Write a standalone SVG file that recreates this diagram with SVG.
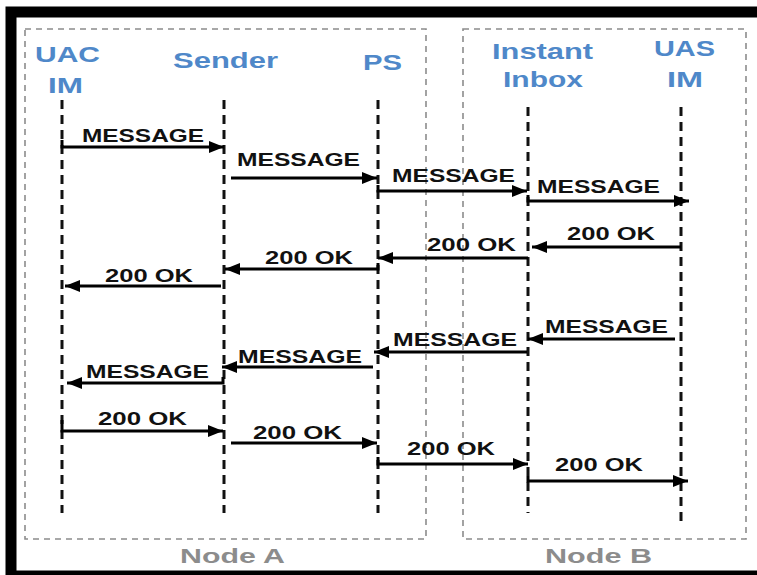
<svg xmlns="http://www.w3.org/2000/svg" width="757" height="575" viewBox="0 0 757 575">
<style>
.frame{fill:none;stroke:#000;stroke-width:11}
.box{fill:none;stroke:#8c8c8c;stroke-width:1.6;stroke-dasharray:6 5}
.life{stroke:#111;stroke-width:3;stroke-dasharray:9 6;fill:none}
.hdr{font-family:"Liberation Sans",Arial,sans-serif;font-weight:bold;font-size:22px;fill:#4f88c9}
.nodelbl{font-family:"Liberation Sans",Arial,sans-serif;font-weight:bold;font-size:21px;fill:#8c8c8c}
.msg{fill:none;stroke:#000;stroke-width:3;marker-end:url(#ah)}
.lbl{font-family:"Liberation Sans",Arial,sans-serif;font-weight:bold;font-size:18px;fill:#111}
</style>
<defs>
<marker id="ah" markerUnits="userSpaceOnUse" markerWidth="16" markerHeight="12" refX="15" refY="6" orient="auto">
<path d="M0,0 L15,6 L0,12 z" fill="#000"/>
</marker>
</defs>
<rect width="757" height="575" fill="#fff"/>
<rect class="frame" x="11" y="12" width="760" height="564"/>
<g id="nodeA">
<rect class="box" x="25" y="29" width="401" height="510"/>
<text class="nodelbl" x="180" y="563" textLength="105" lengthAdjust="spacingAndGlyphs">Node A</text>
</g>
<g id="nodeB">
<rect class="box" x="463" y="29" width="283" height="510"/>
<text class="nodelbl" x="545" y="563" textLength="107" lengthAdjust="spacingAndGlyphs">Node B</text>
</g>
<g id="uac">
<text class="hdr" x="35" y="62" textLength="65" lengthAdjust="spacingAndGlyphs">UAC</text>
<text class="hdr" x="48" y="93" textLength="35" lengthAdjust="spacingAndGlyphs">IM</text>
<line class="life" x1="62" y1="100" x2="62" y2="513"/>
</g>
<g id="sender">
<text class="hdr" x="173" y="68" textLength="105" lengthAdjust="spacingAndGlyphs">Sender</text>
<line class="life" x1="224" y1="100" x2="224" y2="513"/>
</g>
<g id="ps">
<text class="hdr" x="363" y="70" textLength="39" lengthAdjust="spacingAndGlyphs">PS</text>
<line class="life" x1="378" y1="100" x2="378" y2="513"/>
</g>
<g id="inbox">
<text class="hdr" x="492" y="59" textLength="101" lengthAdjust="spacingAndGlyphs">Instant</text>
<text class="hdr" x="503" y="87" textLength="80" lengthAdjust="spacingAndGlyphs">Inbox</text>
<line class="life" x1="528" y1="107" x2="528" y2="513"/>
</g>
<g id="uas">
<text class="hdr" x="654" y="56" textLength="61" lengthAdjust="spacingAndGlyphs">UAS</text>
<text class="hdr" x="667" y="87" textLength="36" lengthAdjust="spacingAndGlyphs">IM</text>
<line class="life" x1="681" y1="107" x2="681" y2="523"/>
</g>
<g id="connectors">
<path class="msg" d="M62,140 V147 H224"/>
<path class="msg" d="M231,178 H377"/>
<path class="msg" d="M378,185 V191 H527"/>
<path class="msg" d="M528,195 V201 H689"/>
<path class="msg" d="M681,247 H532"/>
<path class="msg" d="M528,258 H378"/>
<path class="msg" d="M378,263 V269 H225"/>
<path class="msg" d="M221,286 H65"/>
<path class="msg" d="M675,339 H528"/>
<path class="msg" d="M527,352 H374"/>
<path class="msg" d="M373,367 H222"/>
<path class="msg" d="M223,377 V383 H67"/>
<path class="msg" d="M62,420 V431 H223"/>
<path class="msg" d="M231,443 H377"/>
<path class="msg" d="M378,457 V464 H528"/>
<path class="msg" d="M528,476 V481 H688"/>
<text class="lbl" x="82" y="142" textLength="122" lengthAdjust="spacingAndGlyphs">MESSAGE</text>
<text class="lbl" x="237" y="166" textLength="123" lengthAdjust="spacingAndGlyphs">MESSAGE</text>
<text class="lbl" x="392" y="182" textLength="123" lengthAdjust="spacingAndGlyphs">MESSAGE</text>
<text class="lbl" x="537" y="193" textLength="123" lengthAdjust="spacingAndGlyphs">MESSAGE</text>
<text class="lbl" x="567" y="240" textLength="88" lengthAdjust="spacingAndGlyphs">200 OK</text>
<text class="lbl" x="427" y="251" textLength="89" lengthAdjust="spacingAndGlyphs">200 OK</text>
<text class="lbl" x="265" y="264" textLength="88" lengthAdjust="spacingAndGlyphs">200 OK</text>
<text class="lbl" x="105" y="282" textLength="88" lengthAdjust="spacingAndGlyphs">200 OK</text>
<text class="lbl" x="545" y="333" textLength="123" lengthAdjust="spacingAndGlyphs">MESSAGE</text>
<text class="lbl" x="393" y="346" textLength="124" lengthAdjust="spacingAndGlyphs">MESSAGE</text>
<text class="lbl" x="238" y="363" textLength="124" lengthAdjust="spacingAndGlyphs">MESSAGE</text>
<text class="lbl" x="86" y="378" textLength="123" lengthAdjust="spacingAndGlyphs">MESSAGE</text>
<text class="lbl" x="98" y="425" textLength="89" lengthAdjust="spacingAndGlyphs">200 OK</text>
<text class="lbl" x="253" y="439" textLength="89" lengthAdjust="spacingAndGlyphs">200 OK</text>
<text class="lbl" x="407" y="455" textLength="88" lengthAdjust="spacingAndGlyphs">200 OK</text>
<text class="lbl" x="555" y="471" textLength="88" lengthAdjust="spacingAndGlyphs">200 OK</text>
</g>
</svg>
